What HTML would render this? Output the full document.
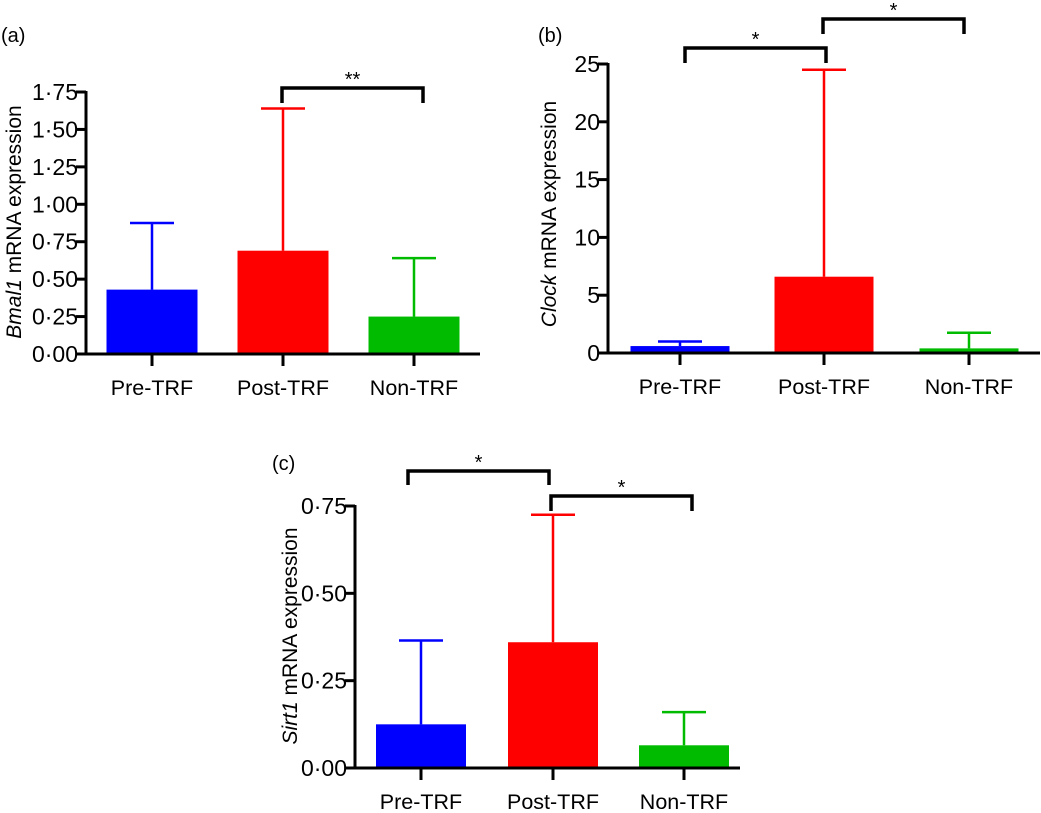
<!DOCTYPE html>
<html><head><meta charset="utf-8"><style>
body{margin:0;background:#fff}
svg{display:block;font-family:"Liberation Sans",Arial,sans-serif}
</style></head><body>
<svg id="fig" width="1041" height="813" viewBox="0 0 1041 813"></svg>
<script>
const categories=["Pre-TRF","Post-TRF","Non-TRF"];
const colors=["#0000ff","#ff0000","#00bb00"];
const bmalMeans=[0.43,0.69,0.25];
const bmalErr=[0.875,1.64,0.64];
const bmalTicks=["0·00","0·25","0·50","0·75","1·00","1·25","1·50","1·75"];
const bmalTickVals=[0,0.25,0.5,0.75,1,1.25,1.5,1.75];
const clockMeans=[0.6,6.6,0.4];
const clockErr=[1.0,24.5,1.75];
const clockTicks=["0","5","10","15","20","25"];
const clockTickVals=[0,5,10,15,20,25];
const sirtMeans=[0.125,0.36,0.065];
const sirtErr=[0.365,0.725,0.16];
const sirtTicks=["0·00","0·25","0·50","0·75"];
const sirtTickVals=[0,0.25,0.5,0.75];

const NS="http://www.w3.org/2000/svg";
const svg=document.getElementById("fig");
function el(tag,attrs,parent,text){const e=document.createElementNS(NS,tag);for(const k in attrs)e.setAttribute(k,attrs[k]);if(text!==undefined)e.textContent=text;(parent||svg).appendChild(e);return e;}

function panel(cfg){
  const g=el("g",{});
  
  
  const y=v=>cfg.y0-(v-0)/cfg.ymax*(cfg.y0-cfg.ytop);
  const x=i=>cfg.cx[i];
  cfg.means.forEach((m,i)=>{
    const r=el("rect",{x:x(i)-cfg.bw/2,y:y(m),width:cfg.bw,height:cfg.y0-y(m),fill:colors[i]},g);
    
    
    const eb=el("path",{d:`M${x(i)},${y(m)}V${y(cfg.err[i])}M${x(i)-22},${y(cfg.err[i])}H${x(i)+22}`,stroke:colors[i],"stroke-width":2.5,fill:"none"},g);
    
    
  });
  const ax=el("path",{d:`M${cfg.ax},${cfg.ytop-1}V${cfg.y0}M${cfg.ax-10},${cfg.y0}H${cfg.xend}`,stroke:"#000","stroke-width":3,fill:"none"},g);
  
  
  cfg.tickVals.forEach((v,i)=>{
    el("line",{x1:cfg.ax-10,x2:cfg.ax,y1:y(v),y2:y(v),stroke:"#000","stroke-width":3},g);
    const t=el("text",{x:cfg.ax-8,y:y(v)+8,"text-anchor":"end","font-size":23},g,cfg.ticks[i]);
    
    
  });
  categories.forEach((c,i)=>{
    el("line",{x1:x(i),x2:x(i),y1:cfg.y0,y2:cfg.y0+12,stroke:"#000","stroke-width":3},g);
    const t=el("text",{x:x(i),y:cfg.y0+41,"text-anchor":"middle","font-size":21.5},g,c);
    
    
  });
  const yt=el("text",{transform:`translate(${cfg.ytx},${cfg.yty}) rotate(-90)`,"text-anchor":"middle","font-size":21},g);
  
  
  el("tspan",{"font-style":"italic"},yt,cfg.gene);
  el("tspan",{},yt," mRNA expression");
  const pl=el("text",{x:cfg.lx,y:cfg.ly,"font-size":20},g,cfg.label);
  
  
  cfg.brackets.forEach(b=>{
    const p=el("path",{d:`M${b[0]},${b[3]}V${b[2]}H${b[1]}V${b[3]}`,stroke:"#000","stroke-width":3.5,fill:"none"},g);
    
    
    const s=el("text",{x:(b[0]+b[1])/2,y:b[2]-2,"text-anchor":"middle","font-size":20},g,b[4]);
    
    
  });
}
panel({name:"panel-a-bmal1",means:bmalMeans,err:bmalErr,ticks:bmalTicks,tickVals:bmalTickVals,ymax:1.75,
  y0:354,ytop:92,ax:86,xend:480,cx:[152,283,414],bw:91,ytx:21,yty:222,gene:"Bmal1",label:"(a)",lx:1,ly:42,
  brackets:[[282,423,88,103,"**"]]});
panel({name:"panel-b-clock",means:clockMeans,err:clockErr,ticks:clockTicks,tickVals:clockTickVals,ymax:25,
  y0:353,ytop:64,ax:608,xend:1040,cx:[680,824,969],bw:99,ytx:556,yty:214,gene:"Clock",label:"(b)",lx:538,ly:42,
  brackets:[[685,826,48,63,"*"],[823,964,19,34,"*"]]});
panel({name:"panel-c-sirt1",means:sirtMeans,err:sirtErr,ticks:sirtTicks,tickVals:sirtTickVals,ymax:0.75,
  y0:768,ytop:506,ax:355,xend:740,cx:[421,553,684],bw:90,ytx:297,yty:636,gene:"Sirt1",label:"(c)",lx:272,ly:470,
  brackets:[[408,549,471,485,"*"],[551,692,496,511,"*"]]});
</script>
</body></html>
